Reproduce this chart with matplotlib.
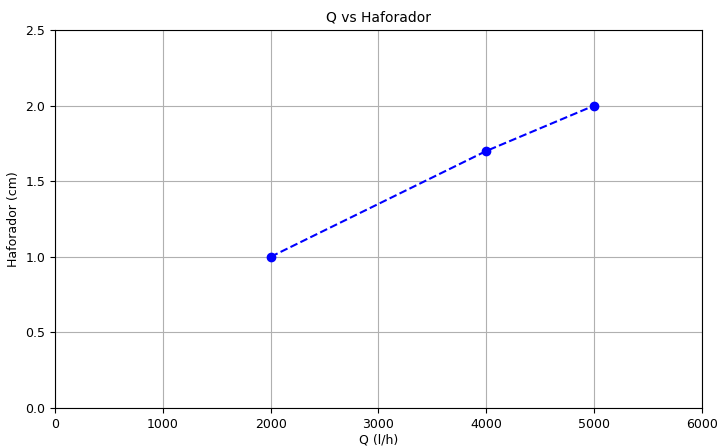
import matplotlib
matplotlib.use("Agg")
import matplotlib.pyplot as plt

# Flow rate (l/h) and gauge reading (cm)
caudal = [2000, 4000, 5000]
haforador = [1.0, 1.7, 2.0]

fig = plt.figure(figsize=(7.18, 4.47), dpi=100)
ax = fig.add_axes([0.0766, 0.0872, 0.9011, 0.8457])

ax.plot(caudal, haforador, 'bo--')
ax.set_xlim(0, 6000)
ax.set_ylim(0, 2.5)
ax.set_xticks([0, 1000, 2000, 3000, 4000, 5000, 6000])
ax.set_yticks([0.0, 0.5, 1.0, 1.5, 2.0, 2.5])
ax.grid(True)
ax.set_title("Q vs Haforador", fontsize=10)
ax.set_xlabel("Q (l/h)", fontsize=9, labelpad=2)
ax.set_ylabel("Haforador (cm)", fontsize=9)
ax.tick_params(labelsize=9)

fig.savefig("out.png", dpi=100)
